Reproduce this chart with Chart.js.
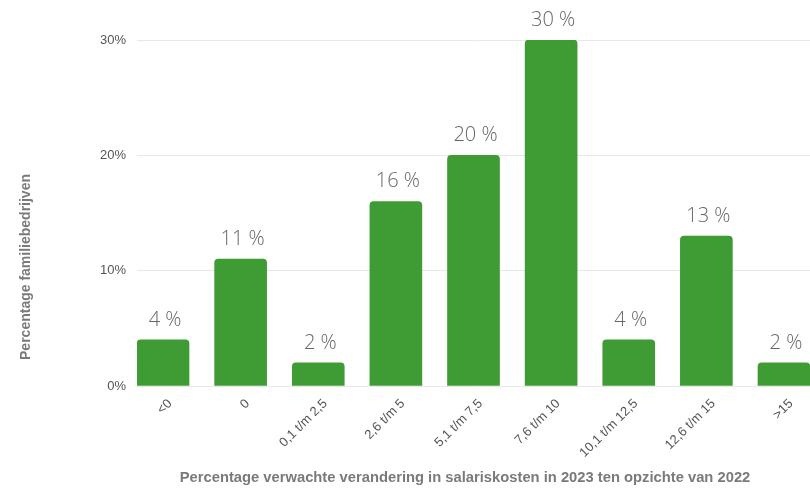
<!DOCTYPE html>
<html>
<head>
<meta charset="utf-8">
<script src="https://cdn.jsdelivr.net/npm/chart.js@4/dist/chart.umd.min.js"></script>
<style>
  html, body { margin: 0; padding: 0; background: #fff; overflow: hidden; }
  #wrap { width: 810px; height: 488px; }
</style>
</head>
<body>
<div id="wrap"><canvas id="myChart"></canvas></div>
<script>
const categories = ['<0', '0', '0,1 t/m 2,5', '2,6 t/m 5', '5,1 t/m 7,5', '7,6 t/m 10', '10,1 t/m 12,5', '12,6 t/m 15', '>15'];
const percentages = [4, 11, 2, 16, 20, 30, 4, 13, 2];
const yTicks = [0, 10, 20, 30];
const xTitle = 'Percentage verwachte verandering in salariskosten in 2023 ten opzichte van 2022';
const yTitle = 'Percentage familiebedrijven';

const barGreen = 'rgb(63, 156, 53)';

// value labels above the bars, plus both axis titles placed like the original
const labelPlugin = {
    id: 'barLabels',
    afterDatasetsDraw(chart) {
        const ctx = chart.ctx;
        const meta = chart.getDatasetMeta(0);
        ctx.save();
        ctx.font = '300 20px "Open Sans"';
        ctx.fillStyle = '#666';
        ctx.textAlign = 'center';
        ctx.textBaseline = 'bottom';
        meta.data.forEach((bar, i) => {
            ctx.fillText(percentages[i] + ' %', bar.x + 2, bar.y - 10);
        });
        ctx.restore();

        ctx.save();
        ctx.font = 'bold 14.75px "Liberation Sans"';
        ctx.fillStyle = '#7a7a7a';
        ctx.textAlign = 'center';
        ctx.textBaseline = 'middle';
        ctx.fillText(xTitle, 465, 478);
        ctx.translate(26, 267);
        ctx.rotate(-Math.PI / 2);
        ctx.font = 'bold 14px "Liberation Sans"';
        ctx.fillText(yTitle, 0, 0);
        ctx.restore();
    }
};

const ctx = document.getElementById('myChart').getContext('2d');

const myChart = new Chart(ctx, {
    type: 'bar',
    data: {
        datasets: [{
            label: yTitle,
            data: percentages.map((v, i) => ({ x: i, y: v })),
            backgroundColor: barGreen,
            borderRadius: { topLeft: 4, topRight: 4 },
            borderSkipped: 'bottom',
            barThickness: 52
        }]
    },
    options: {
        responsive: true,
        maintainAspectRatio: false,
        animation: false,
        layout: { padding: { top: 40, right: 0, left: 0, bottom: 0 } },
        plugins: {
            legend: { display: false },
            tooltip: { enabled: false }
        },
        scales: {
            x: {
                type: 'linear',
                offset: false,
                min: -0.335,
                max: 8.335,
                afterBuildTicks: (scale) => {
                    scale.ticks = categories.map((c, i) => ({ value: i }));
                },
                afterFit: (scale) => { scale.height = 102; },
                grid: { display: false, drawTicks: false, offset: false },
                border: { display: false },
                ticks: {
                    autoSkip: false,
                    maxRotation: 45,
                    minRotation: 45,
                    padding: 10,
                    labelOffset: 7,
                    color: '#555',
                    font: { family: '"Liberation Sans"', size: 13 },
                    callback: (v) => categories[v]
                }
            },
            y: {
                min: 0,
                max: 30,
                afterBuildTicks: (scale) => {
                    scale.ticks = yTicks.map(v => ({ value: v }));
                },
                afterFit: (scale) => { scale.width = 137; },
                grid: { color: '#e8e8e8', drawTicks: false },
                border: { display: false },
                ticks: {
                    padding: 11,
                    color: '#555',
                    font: { family: '"Liberation Sans"', size: 13 },
                    callback: (v) => v + '%'
                }
            }
        }
    },
    plugins: [labelPlugin]
});
</script>
</body>
</html>
